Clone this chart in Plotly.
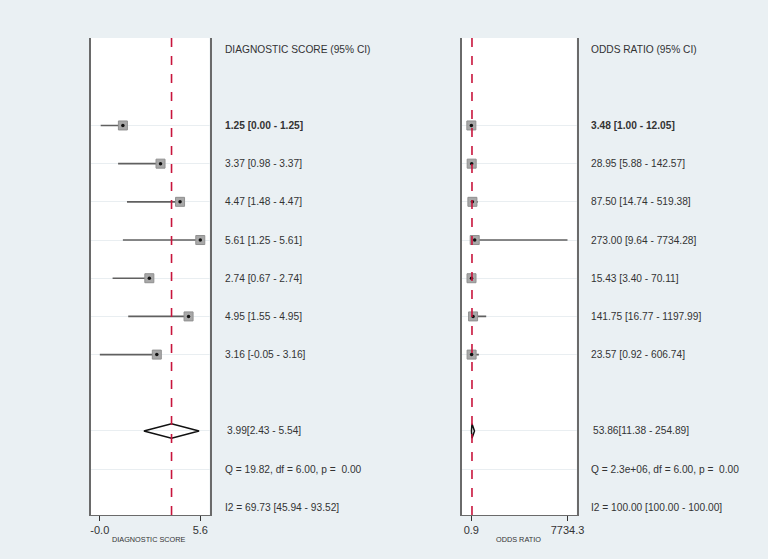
import plotly.graph_objects as go

# ---- data ----
ds_est = [1.25, 3.37, 4.47, 5.61, 2.74, 4.95, 3.16]
ds_lo = [0.00, 0.98, 1.48, 1.25, 0.67, 1.55, -0.05]
ds_hi = [1.25, 3.37, 4.47, 5.61, 2.74, 4.95, 3.16]
ds_pool = [3.99, 2.43, 5.54]
ds_labels = ["1.25 [0.00 - 1.25]", "3.37 [0.98 - 3.37]", "4.47 [1.48 - 4.47]",
             "5.61 [1.25 - 5.61]", "2.74 [0.67 - 2.74]", "4.95 [1.55 - 4.95]",
             "3.16 [-0.05 - 3.16]"]
ds_pool_label = "3.99[2.43 - 5.54]"
ds_q = "Q = 19.82, df = 6.00, p =  0.00"
ds_i2 = "I2 = 69.73 [45.94 - 93.52]"
ds_ticks = [-0.05, 5.61]
ds_ticktext = ["-0.0", "5.6"]

or_est = [3.48, 28.95, 87.50, 273.00, 15.43, 141.75, 23.57]
or_lo = [1.00, 5.88, 14.74, 9.64, 3.40, 16.77, 0.92]
or_hi = [12.05, 142.57, 519.38, 7734.28, 70.11, 1197.99, 606.74]
or_pool = [53.86, 11.38, 254.89]
or_labels = ["3.48 [1.00 - 12.05]", "28.95 [5.88 - 142.57]", "87.50 [14.74 - 519.38]",
             "273.00 [9.64 - 7734.28]", "15.43 [3.40 - 70.11]", "141.75 [16.77 - 1197.99]",
             "23.57 [0.92 - 606.74]"]
or_pool_label = "53.86[11.38 - 254.89]"
or_q = "Q = 2.3e+06, df = 6.00, p =  0.00"
or_i2 = "I2 = 100.00 [100.00 - 100.00]"
or_ticks = [0.92, 7734.28]
or_ticktext = ["0.9", "7734.3"]

rows = [2, 3, 4, 5, 6, 7, 8]
pool_row, q_row, i2_row = 10, 11, 12

W, H = 768, 559
FONT = "Liberation Sans, Arial, sans-serif"
TXT = "#333333"

fig = go.Figure()

def panel(est, lo, hi, pool, xa, ya):
    xs, ys = [], []
    for r, a, b in zip(rows, lo, hi):
        xs += [a, b, None]
        ys += [r, r, None]
    fig.add_trace(go.Scatter(x=xs, y=ys, mode="lines", line=dict(color="#606060", width=1.6),
                             xaxis=xa, yaxis=ya, showlegend=False, hoverinfo="skip"))
    fig.add_trace(go.Scatter(x=est, y=rows, mode="markers",
                             marker=dict(symbol="square", size=9, color="#a8a8a8",
                                         line=dict(color="#909090", width=1)),
                             xaxis=xa, yaxis=ya, showlegend=False))
    fig.add_trace(go.Scatter(x=est, y=rows, mode="markers",
                             marker=dict(symbol="circle", size=3.5, color="#111111"),
                             xaxis=xa, yaxis=ya, showlegend=False, hoverinfo="skip"))
    h = 0.19
    c, l, u = pool
    fig.add_trace(go.Scatter(x=[l, c, u, c, l], y=[pool_row, pool_row - h, pool_row, pool_row + h, pool_row],
                             mode="lines", line=dict(color="#111111", width=1.5),
                             xaxis=xa, yaxis=ya, showlegend=False))

panel(ds_est, ds_lo, ds_hi, ds_pool, "x", "y")
panel(or_est, or_lo, or_hi, or_pool, "x2", "y2")

ydom = [1 - 515 / H, 1 - 38 / H]
yrange = [12.2, -0.29]
grid_rows = rows + [pool_row, q_row]
yax = dict(domain=ydom, range=yrange, showline=True, mirror=True, linecolor="#6a6a6a", linewidth=1.5,
           tickvals=grid_rows, showticklabels=False, ticks="", showgrid=True,
           gridcolor="#e9eef1", gridwidth=1, zeroline=False, fixedrange=True)

xax_common = dict(showline=True, linecolor="#6a6a6a", linewidth=1, ticks="outside", ticklen=5,
                  tickcolor="#333333", tickwidth=1, showgrid=False, zeroline=False,
                  tickfont=dict(family=FONT, size=11, color=TXT))

R0, R1 = 466.5, 582.5
fig.update_layout(
    width=W, height=H, margin=dict(l=0, r=0, t=0, b=0),
    paper_bgcolor="#eaf0f3", plot_bgcolor="#ffffff",
    font=dict(family=FONT, color=TXT),
    xaxis=dict(domain=[91 / W, 211 / W], range=[-0.55, 6.13], tickvals=ds_ticks, ticktext=ds_ticktext,
               anchor="y", **xax_common),
    xaxis2=dict(domain=[R0 / W, R1 / W], range=[-746, 8473], tickvals=or_ticks, ticktext=or_ticktext,
                anchor="y2", **xax_common),
    yaxis=dict(anchor="x", **yax),
    yaxis2=dict(anchor="x2", **yax),
)

# red dashed reference line at pooled estimate
for xr, yd, v in [("x", "y domain", ds_pool[0]), ("x2", "y2 domain", or_pool[0])]:
    fig.add_shape(type="line", xref=xr, yref=yd,
                  x0=v, x1=v, y0=0, y1=1, line=dict(color="#c8143c", width=1.6, dash="dash"))

def texts(x0, header, labels, pool_label, q, i2, ya):
    fs = 10.2
    fig.add_annotation(x=x0, xref="paper", y=0, yref=ya, text=header, showarrow=False,
                       xanchor="left", font=dict(size=fs, color=TXT))
    for i, (r, t) in enumerate(zip(rows, labels)):
        tt = "<b>%s</b>" % t if i == 0 else t
        fig.add_annotation(x=x0, xref="paper", y=r, yref=ya, text=tt, showarrow=False,
                           xanchor="left", font=dict(size=fs, color=TXT))
    fig.add_annotation(x=x0 + 2 / W, xref="paper", y=pool_row, yref=ya, text=pool_label, showarrow=False,
                       xanchor="left", font=dict(size=fs, color=TXT))
    fig.add_annotation(x=x0, xref="paper", y=q_row, yref=ya, text=q, showarrow=False,
                       xanchor="left", font=dict(size=fs, color=TXT))
    fig.add_annotation(x=x0, xref="paper", y=i2_row, yref=ya, text=i2, showarrow=False,
                       xanchor="left", font=dict(size=fs, color=TXT))

texts(225 / W, "DIAGNOSTIC SCORE (95% CI)", ds_labels, ds_pool_label, ds_q, ds_i2, "y")
texts(595 / W, "ODDS RATIO (95% CI)", or_labels, or_pool_label, or_q, or_i2, "y2")

# axis titles
for xc, t in [(150 / W, "DIAGNOSTIC SCORE"), (524 / W, "ODDS RATIO")]:
    fig.add_annotation(x=xc, xref="paper", y=1 - 539 / H, yref="paper", text=t, showarrow=False,
                       xanchor="center", yanchor="middle", font=dict(size=7.3, color=TXT))

fig.write_html("out.html")
